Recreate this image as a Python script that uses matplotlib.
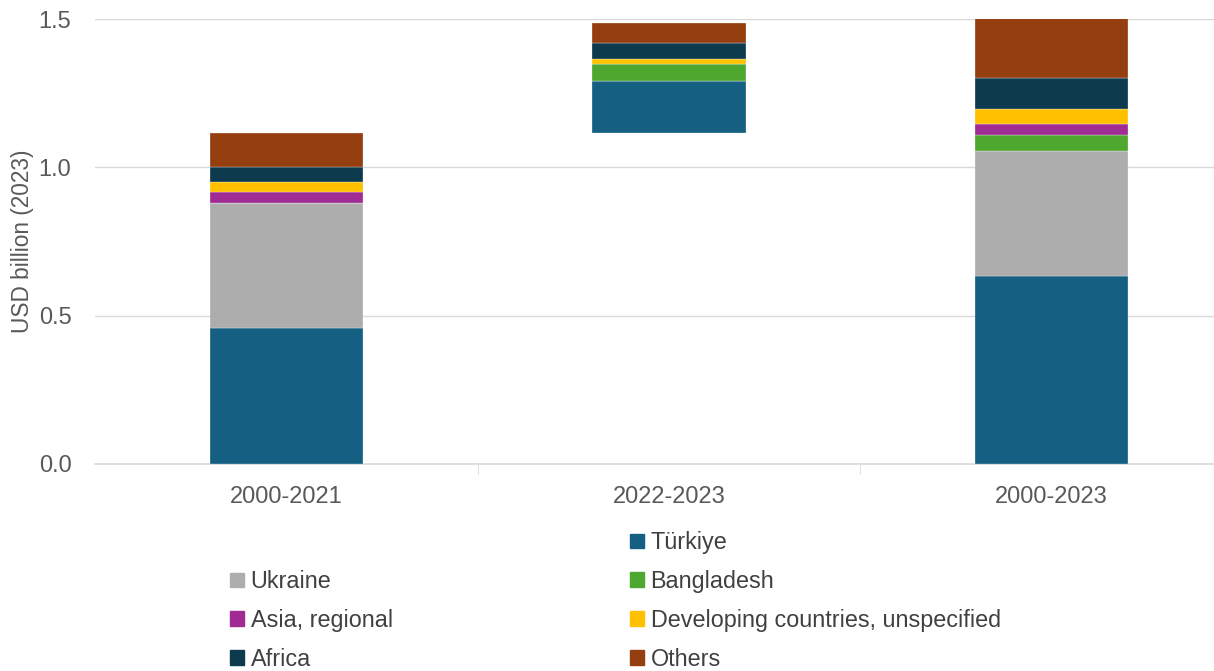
import matplotlib.pyplot as plt
from matplotlib.patches import Patch
import numpy as np

# Periods and regional contributions (USD billion, 2023 prices)
periods = ["2000-2021", "2022-2023", "2000-2023"]
series = ["Türkiye", "Ukraine", "Bangladesh", "Asia, regional",
          "Developing countries, unspecified", "Africa", "Others"]
turkiye = [0.458, 0.174, 0.634]
ukraine = [0.421, 0.0, 0.420]
bangladesh = [0.0, 0.056, 0.055]
asia = [0.037, 0.0, 0.038]
developing = [0.033, 0.017, 0.051]
africa = [0.051, 0.054, 0.104]
others = [0.117, 0.070, 0.200]

colors = ["#156082", "#ADADAD", "#4EA72E", "#A02B93", "#FFC000", "#0E3A4E", "#953F10"]

values = np.array([turkiye, ukraine, bangladesh, asia, developing, africa, others])

# the middle bar floats on top of the first period total (waterfall)
base = np.array([0.0, values[:, 0].sum(), 0.0])

plt.rcParams['font.family'] = ['Liberation Sans', 'DejaVu Sans']

fig = plt.figure(figsize=(12.14, 6.71), dpi=100)
ax = fig.add_axes([95 / 1214, 207 / 671, 1148 / 1214, 445 / 671])

x = np.arange(len(periods))
bottom = base.copy()
for name, vals, col in zip(series, values, colors):
    ax.bar(x, vals, width=0.4, bottom=bottom, color=col, label=name,
           edgecolor="white", linewidth=0.2, zorder=3)
    bottom = bottom + vals

ax.set_xlim(-0.5, 2.5)
ax.set_ylim(0, 1.5)
ax.set_yticks([0, 0.5, 1.0, 1.5])
ax.set_yticklabels(["0.0", "0.5", "1.0", "1.5"])
ax.yaxis.grid(True, color="#D9D9D9", linewidth=1, zorder=0)
ax.set_xticks(x)
ax.set_xticklabels(periods)
ax.set_xticks([0.5, 1.5], minor=True)
ax.tick_params(axis="x", which="major", length=0, pad=16, labelsize=17, labelcolor="#595959")
ax.tick_params(axis="x", which="minor", length=7, color="#D9D9D9", direction="out")
ax.tick_params(axis="y", length=0, pad=17, labelsize=17, labelcolor="#595959")
for s in ["top", "right", "left"]:
    ax.spines[s].set_visible(False)
ax.spines["bottom"].set_color("#D9D9D9")
ax.spines["bottom"].set_linewidth(1.2)
ax.set_ylabel("USD billion (2023)", fontsize=16.3, color="#595959", labelpad=3)

# Legend laid out like the original: two columns, first slot empty
handles = [Patch(color=c) for c in colors]
col1 = [1, 3, 5]
col2 = [0, 2, 4, 6]
leg_kw = dict(frameon=False, fontsize=16.8, handlelength=0.58, handleheight=0.58,
              handletextpad=0.3, labelspacing=0.68, loc="upper left",
              labelcolor="#404040")
leg1 = fig.legend([handles[i] for i in col1], [series[i] for i in col1],
                  bbox_to_anchor=(209 / 1214, 1 - 549 / 671), **leg_kw)
leg2 = fig.legend([handles[i] for i in col2], [series[i] for i in col2],
                  bbox_to_anchor=(609 / 1214, 1 - 510 / 671), **leg_kw)

fig.savefig("out.png", dpi=100)
